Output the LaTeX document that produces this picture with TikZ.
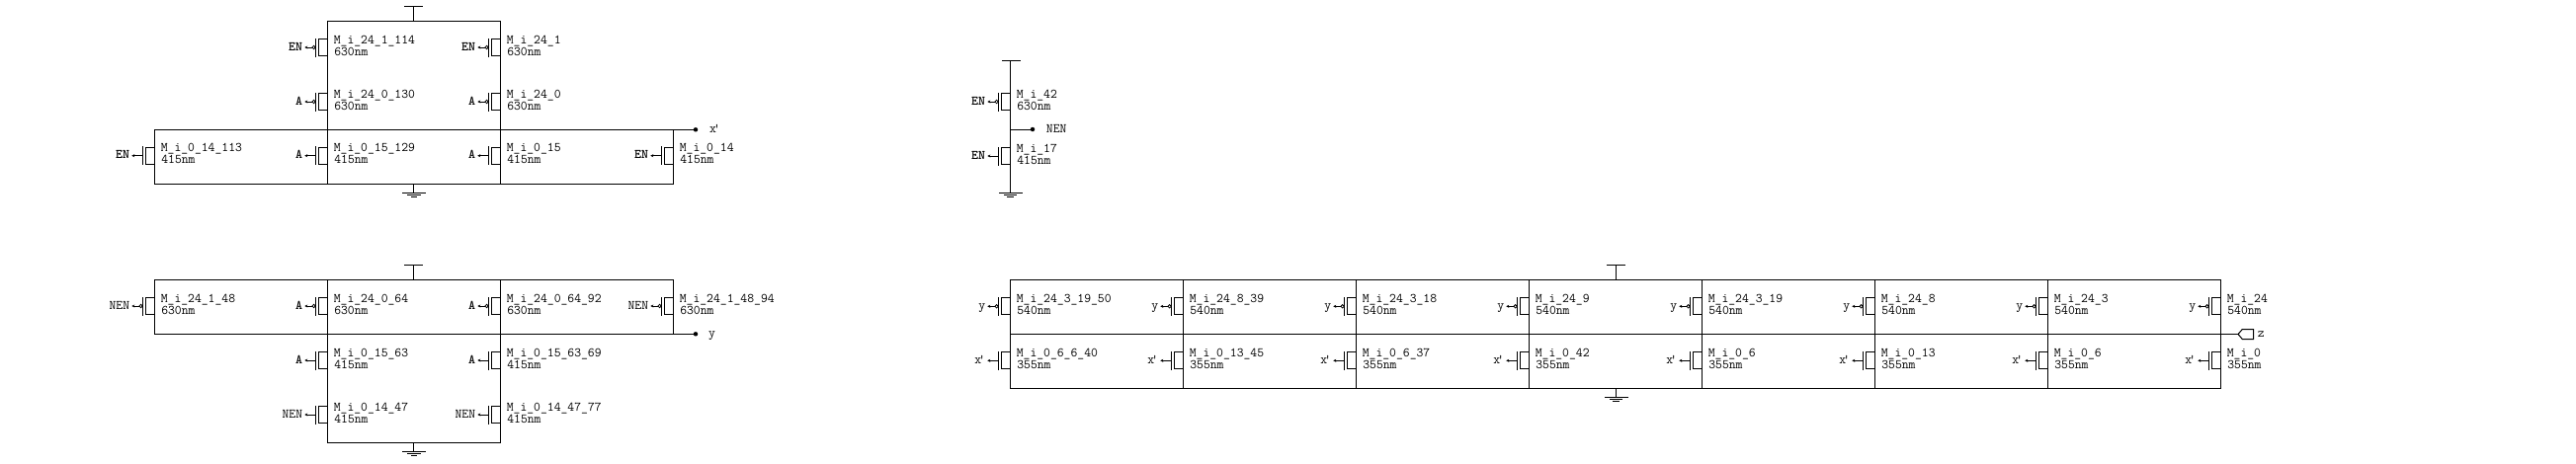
\documentclass[tikz,border=0pt]{standalone}
\usepackage{tikz}
\usetikzlibrary{arrows.meta}
\newcommand{\xprime}{x\kern-3pt'}

\begin{document}
\begin{tikzpicture}[
    x=1pt, y=-1pt,
    wire/.style={line width=1pt, line cap=rect},
    pin/.style={line width=0.9pt, -{Stealth[length=3pt, width=3pt]}},
    dot/.style={circle, fill, inner sep=0pt, minimum size=4.5pt},
    bubble/.style={circle, draw, line width=0.8pt, inner sep=0pt, minimum size=3.4pt},
    devtext/.style={font=\ttfamily\fontsize{13.3}{15}\selectfont, inner sep=0pt, anchor=base west},
    gatetext/.style={font=\ttfamily\fontsize{13.3}{15}\selectfont, inner xsep=2pt, inner ysep=0pt,
        text height=6.5pt, text depth=0pt, anchor=east},
    nettext/.style={gatetext, inner xsep=0pt, anchor=west},
    mos/.pic={
        \draw[wire] (0,-8.5) -- (-9,-8.5) -- (-9,8.5) -- (0,8.5);
        \draw[wire] (-12,-9) -- (-12,9);
    },
    vdd/.pic={
        \draw[wire] (0,0) -- (0,-15);
        \draw[wire] (-9,-15) -- (9,-15);
    },
    gnd/.pic={
        \draw[wire] (0,0) -- (0,9);
        \draw[wire] (-11,9) -- (12,9);
        \draw[wire] (-6,11.2) -- (6.5,11.2);
        \draw[wire] (-2.5,13) -- (3,13);
    }
]
\useasboundingbox (0,0) rectangle (2607,469);

% --- PMOS devices ---
\foreach \i/\mx/\my/\mname/\msize/\mgate in {
    p1/331.3/48/M\_i\_24\_1\_114/630nm/\textbf{EN},
    p2/506.3/48/M\_i\_24\_1/630nm/\textbf{EN},
    p3/331.3/103/M\_i\_24\_0\_130/630nm/\textbf{A},
    p4/506.3/103/M\_i\_24\_0/630nm/\textbf{A},
    p5/1022.3/103/M\_i\_42/630nm/\textbf{EN},
    p6/156.3/310/M\_i\_24\_1\_48/630nm/NEN,
    p7/331.3/310/M\_i\_24\_0\_64/630nm/\textbf{A},
    p8/506.3/310/M\_i\_24\_0\_64\_92/630nm/\textbf{A},
    p9/681.3/310/M\_i\_24\_1\_48\_94/630nm/NEN,
    p10/1022.3/310.3/M\_i\_24\_3\_19\_50/540nm/y,
    p11/1197.3/310.3/M\_i\_24\_8\_39/540nm/y,
    p12/1372.3/310.3/M\_i\_24\_3\_18/540nm/y,
    p13/1547.3/310.3/M\_i\_24\_9/540nm/y,
    p14/1722.3/310.3/M\_i\_24\_3\_19/540nm/y,
    p15/1897.3/310.3/M\_i\_24\_8/540nm/y,
    p16/2072.3/310.3/M\_i\_24\_3/540nm/y,
    p17/2247.3/310.3/M\_i\_24/540nm/y}
{
    \pic at (\mx,\my) {mos};
    \node[devtext] (name\i) at ({\mx+6.3},{\my-4}) {\mname};
    \node[devtext] (size\i) at ({\mx+6.8},{\my+8}) {\msize};
    \node[gatetext] (gate\i) at ({\mx-23},\my) {\mgate};
    \node[bubble] (bub\i) at ({\mx-13.7},\my) {};
    \draw[pin] (bub\i) -- (gate\i);
}

% --- NMOS devices ---
\foreach \i/\mx/\my/\mname/\msize/\mgate in {
    n1/156.3/157.7/M\_i\_0\_14\_113/415nm/\textbf{EN},
    n2/331.3/157.7/M\_i\_0\_15\_129/415nm/\textbf{A},
    n3/506.3/157.7/M\_i\_0\_15/415nm/\textbf{A},
    n4/681.3/157.7/M\_i\_0\_14/415nm/\textbf{EN},
    n5/1022.3/158/M\_i\_17/415nm/\textbf{EN},
    n6/331.3/365/M\_i\_0\_15\_63/415nm/\textbf{A},
    n7/506.3/365/M\_i\_0\_15\_63\_69/415nm/\textbf{A},
    n8/331.3/420/M\_i\_0\_14\_47/415nm/NEN,
    n9/506.3/420/M\_i\_0\_14\_47\_77/415nm/NEN,
    n10/1022.3/365.3/M\_i\_0\_6\_6\_40/355nm/\xprime,
    n11/1197.3/365.3/M\_i\_0\_13\_45/355nm/\xprime,
    n12/1372.3/365.3/M\_i\_0\_6\_37/355nm/\xprime,
    n13/1547.3/365.3/M\_i\_0\_42/355nm/\xprime,
    n14/1722.3/365.3/M\_i\_0\_6/355nm/\xprime,
    n15/1897.3/365.3/M\_i\_0\_13/355nm/\xprime,
    n16/2072.3/365.3/M\_i\_0\_6/355nm/\xprime,
    n17/2247.3/365.3/M\_i\_0/355nm/\xprime}
{
    \pic at (\mx,\my) {mos};
    \node[devtext] (name\i) at ({\mx+6.3},{\my-4}) {\mname};
    \node[devtext] (size\i) at ({\mx+6.8},{\my+8}) {\msize};
    \node[gatetext] (gate\i) at ({\mx-23},\my) {\mgate};
    \coordinate (chan\i) at ({\mx-12},\my);
    \draw[pin] (chan\i) -- (gate\i);
}

% --- Stage driving x' ---
\coordinate (xa) at (331.3,21.5);
\coordinate (xb) at (506.3,21.5);
\coordinate (xc) at (156.3,131.3);
\coordinate (xd) at (681.3,131.3);
\coordinate (xe) at (156.3,186.3);
\coordinate (xf) at (681.3,186.3);
\node[dot] (xdot) at (704,131.3) {};
\node[nettext] (xnet) at (718,131.3) {\xprime};
\draw[wire] (xa) -- (xb);
\draw[wire] (xc) -- (xdot);
\draw[wire] (xe) -- (xf);
\draw[wire] (xc) -- (xe);
\draw[wire] (xd) -- (xf);
\draw[wire] (xa) -- (xa |- xe);
\draw[wire] (xb) -- (xb |- xe);
\pic at (418.5,21.5) {vdd};
\pic at (418.5,186.3) {gnd};

% --- Enable inverter ---
\coordinate (na) at (1022.3,61.3);
\coordinate (nb) at (1022.3,186.3);
\coordinate (nc) at (1022.3,131);
\node[dot] (ndot) at (1045,131) {};
\node[nettext] (nnet) at (1058.7,131) {NEN};
\draw[wire] (na) -- (nb);
\draw[wire] (nc) -- (ndot);
\draw[wire] (1014,61.3) -- (1032.7,61.3);
\pic at (1022.3,186.3) {gnd};

% --- Stage driving y ---
\coordinate (ya) at (156.3,283.3);
\coordinate (yb) at (681.3,283.3);
\coordinate (yc) at (156.3,338.3);
\coordinate (yd) at (681.3,338.3);
\coordinate (ye) at (331.3,448.3);
\coordinate (yf) at (506.3,448.3);
\node[dot] (ydot) at (704,338.3) {};
\node[nettext] (ynet) at (717,338.3) {y};
\draw[wire] (ya) -- (yb);
\draw[wire] (yc) -- (ydot);
\draw[wire] (ye) -- (yf);
\draw[wire] (ya) -- (yc);
\draw[wire] (yb) -- (yd);
\draw[wire] (ye |- ya) -- (ye);
\draw[wire] (yf |- ya) -- (yf);
\pic at (418.5,283.3) {vdd};
\pic at (418.5,448.3) {gnd};

% --- Output stage ---
\coordinate (za) at (1022.3,283.3);
\coordinate (zb) at (2247.3,283.3);
\coordinate (zc) at (1022.3,338.5);
\coordinate (zd) at (1022.3,393.3);
\coordinate (ze) at (2247.3,393.3);
\coordinate (ztip) at (2265,338.5);
\node[nettext] (znet) at (2284.7,338.5) {z};
\draw[wire] (za) -- (zb);
\draw[wire] (zc) -- (ztip);
\draw[wire] (zd) -- (ze);
\foreach \mx in {1022.3,1197.3,1372.3,1547.3,1722.3,1897.3,2072.3,2247.3}
    \draw[wire] (\mx,283.3) -- (\mx,393.3);
\draw[wire] (ztip) -- ++(4.3,-5) -- ++(11.4,0) -- ++(0,10) -- ++(-11.4,0) -- cycle;
\pic at (1635,283.3) {vdd};
\pic at (1635,393.3) {gnd};

\end{tikzpicture}
\end{document}
